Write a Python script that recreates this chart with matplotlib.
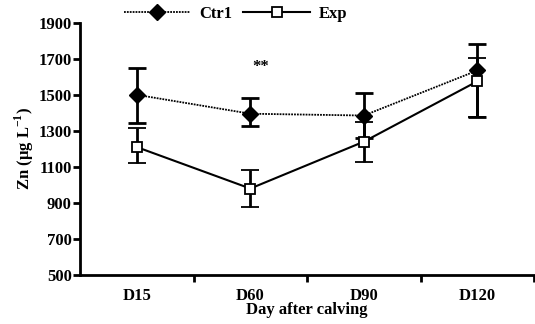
import matplotlib.pyplot as plt

plt.rcParams['font.family'] = 'Liberation Serif'
plt.rcParams['font.weight'] = 'bold'
plt.rcParams['axes.labelweight'] = 'bold'
plt.rcParams['mathtext.fontset'] = 'custom'
plt.rcParams['mathtext.rm'] = 'Liberation Serif:bold'
plt.rcParams['mathtext.bf'] = 'Liberation Serif:bold'

days = ['D15', 'D60', 'D90', 'D120']
ctrl = [1500, 1395, 1385, 1635]
ctrl_lo = [155, 68, 125, 260]
ctrl_hi = [150, 87, 125, 145]
exp = [1210, 980, 1240, 1575]
exp_lo = [90, 105, 115, 200]
exp_hi = [105, 105, 110, 130]

x = list(range(len(days)))

fig = plt.figure(figsize=(5.35, 3.24), dpi=100)
ax = fig.add_axes([0.1495, 0.151, 0.849, 0.779])

c = ax.errorbar(x, ctrl, yerr=[ctrl_lo, ctrl_hi], color='black', ls=(0, (1, 0.6)), lw=1.3,
                marker='D', ms=8, mfc='black', mec='black',
                ecolor='black', elinewidth=2, capsize=6.5, capthick=2, zorder=3)
e = ax.errorbar(x, exp, yerr=[exp_lo, exp_hi], color='black', ls='-', lw=1.5,
                marker='s', ms=6.5, mfc='white', mec='black', mew=1.3,
                ecolor='black', elinewidth=2, capsize=6.5, capthick=2, zorder=4)

ax.text(1.09, 1655, '**', ha='center', va='center', fontsize=12, fontweight='bold')

ax.set_xlim(-0.5, 3.5)
ax.set_ylim(500, 1900)
ax.set_yticks(range(500, 1901, 200))
ax.set_xticks(x)
ax.set_xticklabels(days)
ax.set_xticks([0.5, 1.5, 2.5, 3.5], minor=True)
ax.tick_params(axis='x', which='major', length=0, pad=9, labelsize=12)
ax.tick_params(axis='x', which='minor', length=5, width=2)
ax.tick_params(axis='y', length=5, width=2, labelsize=12, pad=1)

for s in ['top', 'right']:
    ax.spines[s].set_visible(False)
for s in ['left', 'bottom']:
    ax.spines[s].set_linewidth(2)

ax.set_xlabel('Day after calving', fontsize=12, fontweight='bold', labelpad=-1)
ax.set_ylabel('Zn (µg L$^{-1}$)', fontsize=12, fontweight='bold', labelpad=2)

fig.legend([c.lines[0], e.lines[0]], ['Ctr1', 'Exp'], loc='center',
           bbox_to_anchor=(0.44, 0.958), ncol=2, frameon=False,
           fontsize=12, handlelength=4.0, columnspacing=0.7, handletextpad=0.5)

fig.savefig('out.png', dpi=100)
